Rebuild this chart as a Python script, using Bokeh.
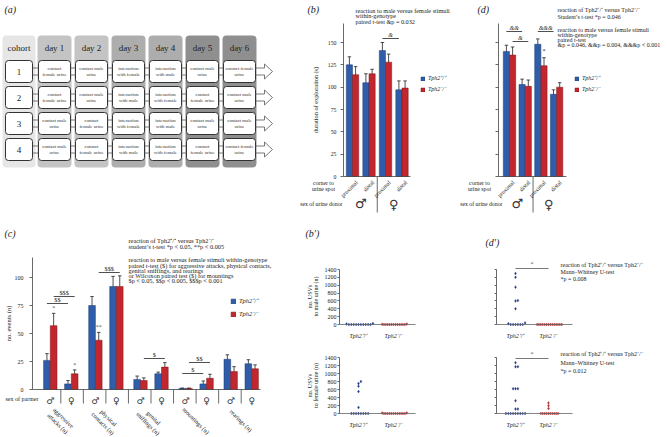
import math
from bokeh.plotting import figure
from bokeh.layouts import row, column
from bokeh.models import (Range1d, FixedTicker, Legend, LegendItem, Whisker, TeeHead,
                          ColumnDataSource, BoxAnnotation)
from bokeh.core.properties import value
from bokeh.embed import file_html
from bokeh.resources import INLINE

# ---------------------------------------------------------------- data
WT = "Tph2\u207a/\u207a"
KO = "Tph2\u207b/\u207b"

cohorts = ["1", "2", "3", "4"]
days = ["day 1", "day 2", "day 3", "day 4", "day 5", "day 6"]
schedule = [
    ["contact\nfemale urine", "contact male\nurine", "interaction\nwith female", "interaction\nwith male", "contact male\nurine", "contact female\nurine"],
    ["contact\nfemale urine", "contact male\nurine", "interaction\nwith male", "interaction\nwith female", "contact\nfemale urine", "contact male\nurine"],
    ["contact male\nurine", "contact\nfemale urine", "interaction\nwith female", "interaction\nwith male", "contact male\nurine", "contact male\nurine"],
    ["contact male\nurine", "contact\nfemale urine", "interaction\nwith male", "interaction\nwith female", "contact\nfemale urine", "contact female\nurine"],
]

# (b) and (d): duration of exploration (s)
spot_labels = ["proximal", "distal", "proximal", "distal"]
donor_sex = ["\u2642", "\u2640"]
b_wt = [125, 105, 141, 97]
b_wt_err = [9, 10, 9, 10]
b_ko = [114, 115, 128, 99]
b_ko_err = [9, 5, 9, 8]
d_wt = [140, 103, 148, 92]
d_wt_err = [7, 6, 6, 5]
d_ko = [136, 101, 124, 100]
d_ko_err = [9, 7, 9, 5]
b_y_ticks = [0, 25, 50, 75, 100, 125, 150]

# (c): no. events
behaviours = ["aggressive\nattacks (n)", "physical\ncontacts (n)", "genital\nsniffings (n)",
              "mountings (n)", "rearings (n)"]
partner_sex = ["\u2642", "\u2640"]
c_wt = [26, 5, 75, 92, 9, 14, 1, 5, 27, 23]
c_wt_err = [6, 3, 8, 9, 3, 1.5, 0.3, 2.6, 4, 3.6]
c_ko = [57, 14, 44, 92, 8, 20, 1, 10, 16, 18.5]
c_ko_err = [11, 3.5, 7, 9.5, 2.4, 4, 0.3, 3.6, 4.4, 3.5]
c_y_ticks = [0, 25, 50, 75, 100]

# (b') and (d'): no. USVs per animal
usv_ticks = [0, 200, 400, 600, 800, 1000, 1200, 1400]
bp_top_wt = [0, 0, 0, 0, 0, 0, 0, 0, 0, 0, 15, 25]
bp_top_ko = [0, 0, 0, 0, 0, 0, 0, 0, 0, 0, 0, 0, 5, 10]
bp_bot_wt = [800, 750, 680, 550, 150, 0, 0, 0, 0, 0, 0, 0, 0]
bp_bot_ko = [0, 0, 0, 0, 0, 0, 0, 0, 0, 0, 0, 0, 10, 15]
dp_top_wt = [1300, 1200, 950, 610, 600, 400, 40, 20, 0, 0, 0, 0, 0, 0]
dp_top_ko = [0, 0, 0, 0, 0, 0, 0, 0, 0, 0, 0, 0, 0, 0]
dp_bot_wt = [1270, 1170, 1170, 620, 620, 620, 320, 110, 110, 0, 0, 0, 0, 0, 0, 0, 0, 0]
dp_bot_ko = [265, 195, 125, 0, 0, 0, 0, 0, 0, 0, 0, 0, 0]

# significance annotations
b_sig = [(2, 3, "wt", "&")]
d_sig = [(0, 1, "wt", "&&"), (0, 1, "ko", "&"), (2, 3, "wt", "&&&")]
d_stars = [(2, "ko", "*")]
c_sig = [(0, "wt", "$$"), (0, "ko", "$$$"), (1, "ko", "$$$"), (2, "ko", "$"), (3, "wt", "$"), (3, "ko", "$$")]
c_stars = [(0, "*"), (1, "*"), (2, "**")]

# ---------------------------------------------------------------- style
SERIF = "Liberation Serif"
SYM = "DejaVu Sans"
BLUE = "#2f5da9"
BLUE_E = "#1d3c73"
RED = "#c1272d"
RED_E = "#7d161a"
DBLUE = "#1f3a86"
DRED = "#b0282c"
INK = "#222222"
AXC = "#444444"


def panel(X0, X1, Y0, Y1, ax, bx, ay, by):
    p = figure(width=X1 - X0, height=Y1 - Y0,
               x_range=Range1d((X0 - ax) / bx, (X1 - ax) / bx),
               y_range=Range1d((ay - Y1) / by, (ay - Y0) / by),
               output_backend="svg", toolbar_location=None, title=None,
               min_border=0, min_border_left=0, min_border_right=0,
               min_border_top=0, min_border_bottom=0)
    p.outline_line_color = None
    p.xgrid.visible = False
    p.ygrid.visible = False
    p.background_fill_color = "white"
    p.border_fill_color = "white"
    p._X0, p._Y1 = X0, Y1
    return p, (lambda sx: (sx - ax) / bx), (lambda sy: (ay - sy) / by)


def txt(p, x, y, s, size="6px", align="left", baseline="middle", style="normal",
        angle=0.0, color=INK, font=SERIF, lh=1.15):
    p.text(x=[x], y=[y], text=[s], text_font=value(font), text_font_size=size,
           text_align=align, text_baseline=baseline, text_font_style=style,
           angle=angle, text_color=color, text_line_height=lh)


def style_axis(a, fs="6px", tick_out=3):
    a.axis_line_color = AXC
    a.axis_line_width = 0.8
    a.major_tick_line_color = AXC
    a.major_tick_line_width = 0.8
    a.major_tick_in = 0
    a.major_tick_out = tick_out
    a.minor_tick_line_color = None
    a.major_label_text_font = SERIF
    a.major_label_text_font_size = fs
    a.major_label_text_color = INK
    a.axis_label_text_font = SERIF
    a.axis_label_text_font_style = "normal"
    a.axis_label_text_color = INK


def bars(p, xs, wt, wt_err, ko, ko_err, w):
    xw = [x - w / 2 for x in xs]
    xk = [x + w / 2 for x in xs]
    s1 = ColumnDataSource(dict(x=xw, top=wt, up=[v + e for v, e in zip(wt, wt_err)],
                               lo=[v - e for v, e in zip(wt, wt_err)]))
    s2 = ColumnDataSource(dict(x=xk, top=ko, up=[v + e for v, e in zip(ko, ko_err)],
                               lo=[v - e for v, e in zip(ko, ko_err)]))
    r1 = p.vbar(x="x", top="top", bottom=0, width=w, source=s1,
                fill_color=BLUE, line_color=BLUE_E, line_width=0.5)
    r2 = p.vbar(x="x", top="top", bottom=0, width=w, source=s2,
                fill_color=RED, line_color=RED_E, line_width=0.5)
    for s in (s1, s2):
        p.add_layout(Whisker(source=s, base="x", upper="up", lower="lo",
                             line_color=INK, line_width=0.8,
                             upper_head=TeeHead(size=3.5, line_color=INK, line_width=0.8),
                             lower_head=TeeHead(size=3.5, line_color=INK, line_width=0.8)))
    return r1, r2, xw, xk


def legend(p, r1, r2, sx, sy_bottom, gw=5, gh=5, sp=3, fs="6px"):
    leg = Legend(items=[LegendItem(label=WT, renderers=[r1]),
                        LegendItem(label=KO, renderers=[r2])],
                 location=(sx - p._X0, p._Y1 - sy_bottom), orientation="vertical",
                 glyph_width=gw, glyph_height=gh, label_height=gh, label_width=10,
                 label_standoff=3, spacing=sp, padding=0, margin=0,
                 border_line_color=None, background_fill_alpha=0,
                 label_text_font=SERIF, label_text_font_size=fs,
                 label_text_font_style="italic", label_text_color=INK)
    p.add_layout(leg)


def swarm(vals, py_per_unit, d):
    placed = []
    xs = [0.0] * len(vals)
    for i in sorted(range(len(vals)), key=lambda j: vals[j]):
        py = vals[i] * py_per_unit
        cands = [0.0] + [s * k * d for k in range(1, 60) for s in (1, -1)]
        for c in cands:
            if all((c - qx) ** 2 + (py - qy) ** 2 >= d * d * 0.95 for qx, qy in placed):
                xs[i] = c
                placed.append((c, py))
                break
    return xs


# ---------------------------------------------------------------- (a)
pA, dxA, dyA = panel(0, 294, 0, 225, 0, 1, 225, 1)
pA.axis.visible = False
col_left = [2] + [37 + 37 * i for i in range(6)]
col_w = [33] + [34] * 6
col_fill = ["#e6e6e6", "#c4c4c4", "#c4c4c4", "#adadad", "#adadad", "#8f8f8f", "#8f8f8f"]
inset = [3] + [1] * 6
for i in range(7):
    pA.add_layout(BoxAnnotation(left=dxA(col_left[i]), right=dxA(col_left[i] + col_w[i]),
                                top=dyA(35), bottom=dyA(167), fill_color=col_fill[i],
                                fill_alpha=1, line_color=None, border_radius=4,
                                level="underlay"))
bx_txt_x, bx_txt_y, bx_txt = [], [], []
for r in range(4):
    top = 60 + 26 * r
    bot = top + 22
    cy = (top + bot) / 2
    lefts = [col_left[i] + inset[i] for i in range(7)]
    rights = [col_left[i] + col_w[i] - inset[i] for i in range(7)]
    for i in range(7):
        pA.add_layout(BoxAnnotation(left=dxA(lefts[i]), right=dxA(rights[i]),
                                    top=dyA(top), bottom=dyA(bot), fill_color="white",
                                    fill_alpha=1, line_color="#333333", line_width=1,
                                    line_alpha=1, border_radius=3, level="underlay"))
    # hollow arrow shaft in the gaps
    for i in range(6):
        for off in (-3.5, 3.5):
            pA.line([dxA(rights[i]), dxA(lefts[i + 1])], [dyA(cy + off)] * 2,
                    line_color="#555555", line_width=0.8)
    xe = rights[6]
    pA.line([dxA(xe), dxA(xe + 9), dxA(xe + 9), dxA(xe + 17), dxA(xe + 9), dxA(xe + 9), dxA(xe)],
            [dyA(cy - 3.5), dyA(cy - 3.5), dyA(cy - 7.5), dyA(cy), dyA(cy + 7.5), dyA(cy + 3.5), dyA(cy + 3.5)],
            line_color="#555555", line_width=0.8)
    txt(pA, dxA((lefts[0] + rights[0]) / 2), dyA(cy + 0.5), cohorts[r], size="9px", align="center")
    for d in range(6):
        bx_txt_x.append(dxA((lefts[d + 1] + rights[d + 1]) / 2))
        bx_txt_y.append(dyA(cy))
        bx_txt.append(schedule[r][d])
pA.text(x=bx_txt_x, y=bx_txt_y, text=bx_txt, text_font=value(SERIF), text_font_size="4.8px",
        text_align="center", text_baseline="middle", text_color="#333333", text_line_height=1.15)
txt(pA, dxA(col_left[0] + col_w[0] / 2), dyA(47), "cohort", size="9px", align="center")
for d in range(6):
    txt(pA, dxA(col_left[d + 1] + col_w[d + 1] / 2), dyA(47), days[d], size="9px", align="center")
txt(pA, dxA(4), dyA(9), "(a)", size="10px", style="italic")

# ---------------------------------------------------------------- (b) and (d)


def urine_panel(X0, X1, ax, bx, yaxis_sx, xend_sx, wt, wt_err, ko, ko_err, show_labels):
    p, dx, dy = panel(X0, X1, 0, 225, ax, bx, 176, 0.8933)
    xs = list(range(4))
    w = 6.2 / bx
    r1, r2, xw, xk = bars(p, xs, wt, wt_err, ko, ko_err, w)
    ya = p.yaxis[0]
    style_axis(ya, "5.8px")
    ya.fixed_location = dx(yaxis_sx)
    ya.bounds = (0, 171)
    ya.ticker = FixedTicker(ticks=b_y_ticks)
    ya.major_label_standoff = 4
    if show_labels:
        ya.axis_label = "duration of exploration (s)"
        ya.axis_label_text_font_size = "6.3px"
        ya.axis_label_standoff = 6
    else:
        ya.major_label_text_color = None
    xa = p.xaxis[0]
    style_axis(xa, "5.8px")
    xa.fixed_location = 0
    xa.bounds = (dx(yaxis_sx), dx(xend_sx))
    xa.ticker = FixedTicker(ticks=[x + 0.25 for x in xs])
    xa.major_label_overrides = {x + 0.25: spot_labels[x] for x in xs}
    xa.major_label_orientation = math.pi / 4
    xa.major_tick_line_color = None
    xa.major_label_standoff = 2
    # separator and donor sex
    p.segment(x0=[1.5], y0=[0], x1=[1.5], y1=[dy(212)], line_color=AXC, line_width=0.8)
    p.text(x=[0.5, 2.5], y=[dy(203), dy(204)], text=donor_sex, text_font=value(SYM),
           text_font_size="13px", text_align="center", text_baseline="middle", text_color="#333333")
    return p, dx, dy, r1, r2, xw, xk


pB, dxB, dyB, rbw, rbk, bxw, bxk = urine_panel(294, 455, 352, 16.5, 343, 410,
                                               b_wt, b_wt_err, b_ko, b_ko_err, True)
txt(pB, dxB(323), dyB(185), "corner to\nurine spot", size="5.8px", align="center", lh=1.0)
txt(pB, dxB(342), dyB(203), "sex of urine donor", size="5.8px", align="right")
txt(pB, dxB(307), dyB(9), "(b)", size="10px", style="italic")
for i, line in enumerate(["reaction to male versus female stimuli", "within-genotype",
                          "paired t-test \u0026p = 0.032"]):
    txt(pB, dxB(355), dyB(9.5 + 5.7 * i), line, size="6.2px")
sig_y_b = [38]
for (g1, g2, gt, lab), sy in zip(b_sig, sig_y_b):
    xa_ = bxw if gt == "wt" else bxk
    pB.segment(x0=[xa_[g1]], y0=[dyB(sy)], x1=[xa_[g2]], y1=[dyB(sy)], line_color=INK, line_width=0.8)
    txt(pB, (xa_[g1] + xa_[g2]) / 2, dyB(sy - 1), lab, size="6px", align="center", baseline="bottom", style="italic")
legend(pB, rbw, rbk, 420, 93)

pD, dxD, dyD, rdw, rdk, dxw, dxk = urine_panel(455, 667, 509, 15.7, 498, 566,
                                               d_wt, d_wt_err, d_ko, d_ko_err, False)
txt(pD, dxD(479), dyD(185), "corner to\nurine spot", size="5.8px", align="center", lh=1.0)
txt(pD, dxD(502), dyD(203), "sex of urine donor", size="5.8px", align="right")
txt(pD, dxD(477), dyD(9), "(d)", size="10px", style="italic")
d_lines = [("reaction of " + WT + " versus " + KO, 9.5), ("Student\u2019s t-test *p = 0.046", 16.5),
           ("reaction to male versus female stimuli", 29), ("within-genotype", 34.3),
           ("paired t-test", 39.3), ("\u0026p = 0.046, \u0026\u0026p = 0.004, \u0026\u0026\u0026p < 0.001", 44.5)]
for line, sy in d_lines:
    txt(pD, dxD(557), dyD(sy), line, size="6px")
sig_y_d = [31, 41, 31]
for (g1, g2, gt, lab), sy in zip(d_sig, sig_y_d):
    xa_ = dxw if gt == "wt" else dxk
    pD.segment(x0=[xa_[g1]], y0=[dyD(sy)], x1=[xa_[g2]], y1=[dyD(sy)], line_color=INK, line_width=0.8)
    txt(pD, (xa_[g1] + xa_[g2]) / 2, dyD(sy - 1), lab, size="6px", align="center", baseline="bottom", style="italic")
for g, gt, lab in d_stars:
    top = (d_ko[g] + d_ko_err[g]) if gt == "ko" else (d_wt[g] + d_wt_err[g])
    xx = dxk[g] if gt == "ko" else dxw[g]
    pD.text(x=[xx], y=[top + 4 / 0.8933], text=[lab], text_font=value(SERIF), text_font_size="6px",
            text_align="center", text_baseline="bottom", text_color=INK)
legend(pD, rdw, rdk, 574, 93)

# ---------------------------------------------------------------- (c)
pC, dxC, dyC = panel(0, 300, 225, 437, 60.3, 45.1, 389, 1.12)
sex_x = [c + s for c in range(5) for s in (-0.233, 0.233)]
wC = 6.7 / 45.1
rcw, rck, cxw, cxk = bars(pC, sex_x, c_wt, c_wt_err, c_ko, c_ko_err, wC)
ya = pC.yaxis[0]
style_axis(ya, "6px")
ya.fixed_location = dxC(32)
ya.bounds = (0, 118)
ya.ticker = FixedTicker(ticks=c_y_ticks)
ya.major_label_standoff = 6
ya.axis_label = "no. events (n)"
ya.axis_label_text_font_size = "6.5px"
ya.axis_label_standoff = 0
xa = pC.xaxis[0]
style_axis(xa, "9px")
xa.fixed_location = 0
xa.bounds = (dxC(32), dxC(260))
xa.ticker = FixedTicker(ticks=sex_x)
xa.major_label_overrides = {x: partner_sex[i % 2] for i, x in enumerate(sex_x)}
xa.major_label_text_font = SYM
xa.major_label_text_color = "#333333"
xa.major_tick_line_color = None
xa.major_label_standoff = 3
sep_x = [float(c) for c in range(5)] + [c + 0.5 for c in range(4)]
pC.segment(x0=sep_x, y0=[0] * len(sep_x), x1=sep_x, y1=[dyC(403)] * len(sep_x),
           line_color=AXC, line_width=0.8)
pC.text(x=list(range(5)), y=[dyC(420)] * 5, text=behaviours, text_font=value(SERIF),
        text_font_size="6.2px", text_align="center", text_baseline="middle", angle=-math.pi / 4,
        text_color=INK, text_line_height=1.15)
txt(pC, dxC(38), dyC(398), "sex of partner", size="6px", align="right")
txt(pC, dxC(4), dyC(233), "(c)", size="10px", style="italic")
c_lines = [("reaction of " + WT + " versus " + KO, 240), ("student\u2019s t-test *p < 0.05, **p < 0.005", 245.5),
           ("reaction to male versus female stimuli within-genotype", 259),
           ("paired t-test ($) for aggressive attacks, physical contacts,", 264.5),
           ("genital sniffings, and rearings", 269.7), ("or Wilcoxon paired test ($) for mountings", 275),
           ("$p < 0.05, $$p < 0.005, $$$p < 0.001", 280.3)]
for line, sy in c_lines:
    txt(pC, dxC(128), dyC(sy), line, size="6.3px")
sig_y_c = [303, 296, 272, 358, 373, 362]
for (c, gt, lab), sy in zip(c_sig, sig_y_c):
    xa_ = cxw if gt == "wt" else cxk
    x1, x2 = xa_[2 * c], xa_[2 * c + 1]
    pC.segment(x0=[x1], y0=[dyC(sy)], x1=[x2], y1=[dyC(sy)], line_color=INK, line_width=0.8)
    txt(pC, (x1 + x2) / 2, dyC(sy - 1), lab, size="6.3px", align="center", baseline="bottom")
for k, lab in c_stars:
    pC.text(x=[cxk[k]], y=[c_ko[k] + c_ko_err[k] + 2 / 1.12], text=[lab], text_font=value(SERIF),
            text_font_size="6px", text_align="center", text_baseline="bottom", text_color="#555555")
legend(pC, rcw, rck, 230, 318, gw=6, gh=6, sp=4, fs="6.5px")

# ---------------------------------------------------------------- (b') and (d')


def usv_panel(X0, X1, Y0, Y1, ax, bx, ay, by, yaxis_sx, xend_sx, wt, ko, show_labels):
    p, dx, dy = panel(X0, X1, Y0, Y1, ax, bx, ay, by)
    ya = p.yaxis[0]
    style_axis(ya, "6px", tick_out=2)
    ya.fixed_location = dx(yaxis_sx)
    ya.bounds = (0, 1400)
    ya.ticker = FixedTicker(ticks=usv_ticks)
    ya.major_label_standoff = 1
    if not show_labels:
        ya.major_label_text_color = None
    xa = p.xaxis[0]
    style_axis(xa, "6px")
    xa.axis_line_color = "#666666"
    xa.fixed_location = 0
    xa.bounds = (dx(yaxis_sx), dx(xend_sx))
    xa.ticker = FixedTicker(ticks=[0, 1])
    xa.major_label_overrides = {0: WT, 1: KO}
    xa.major_label_text_font_style = "italic"
    xa.major_tick_line_color = None
    xa.major_label_standoff = 5
    jw = swarm(wt, by, 2.4)
    jk = swarm(ko, by, 1.9)
    p.scatter(x=[0 + j / bx for j in jw], y=wt, marker="diamond", size=3.0,
              fill_color=DBLUE, line_color=DBLUE, line_width=0.3)
    p.scatter(x=[1 + j / bx for j in jk], y=ko, marker="diamond", size=3.0,
              fill_color=DRED, line_color=DRED, line_width=0.3)
    return p, dx, dy


pBt, dxBt, dyBt = usv_panel(300, 480, 225, 340, 358, 35, 324, 55 / 1400, 339, 415, bp_top_wt, bp_top_ko, True)
txt(pBt, dxBt(305), dyBt(233), "(b\u2032)", size="10px", style="italic")
txt(pBt, dxBt(312.5), dyBt(296), "no. USVs\nto male urine (n)", size="6px", align="center",
    angle=math.pi / 2, lh=1.0)
pBb, dxBb, dyBb = usv_panel(300, 480, 340, 437, 358, 35, 413, 56 / 1400, 339, 415, bp_bot_wt, bp_bot_ko, True)
txt(pBb, dxBb(312.5), dyBb(385), "no. USVs\nto female urine (n)", size="6px", align="center",
    angle=math.pi / 2, lh=1.0)

pDt, dxDt, dyDt = usv_panel(480, 667, 225, 340, 515, 33, 324, 55 / 1400, 496, 572, dp_top_wt, dp_top_ko, False)
txt(pDt, dxDt(485), dyDt(242), "(d\u2032)", size="10px", style="italic")
pDt.segment(x0=[0], y0=[dyDt(268)], x1=[1], y1=[dyDt(268)], line_color="#555555", line_width=0.8)
txt(pDt, 0.5, dyDt(266), "*", size="6px", align="center", baseline="bottom", color="#555555")
for line, sy in [("reaction of " + WT + " versus " + KO, 264.5), ("Mann\u2013Whitney U-test", 271.5),
                 ("*p = 0.008", 278)]:
    txt(pDt, dxDt(560), dyDt(sy), line, size="6px")

pDb, dxDb, dyDb = usv_panel(480, 667, 340, 437, 515, 33, 413, 56 / 1400, 496, 572, dp_bot_wt, dp_bot_ko, False)
pDb.segment(x0=[0], y0=[dyDb(358)], x1=[1], y1=[dyDb(358)], line_color="#555555", line_width=0.8)
txt(pDb, 0.5, dyDb(356), "*", size="6px", align="center", baseline="bottom", color="#555555")
for line, sy in [("reaction of " + WT + " versus " + KO, 353.5), ("Mann\u2013Whitney U-test", 362),
                 ("*p = 0.012", 370)]:
    txt(pDb, dxDb(560), dyDb(sy), line, size="6px")

# ---------------------------------------------------------------- layout
top_row = row(pA, pB, pD)
bottom_row = row(pC, column(pBt, pBb), column(pDt, pDb))
layout = column(top_row, bottom_row)

open("out.html", "w").write(file_html(layout, INLINE))
